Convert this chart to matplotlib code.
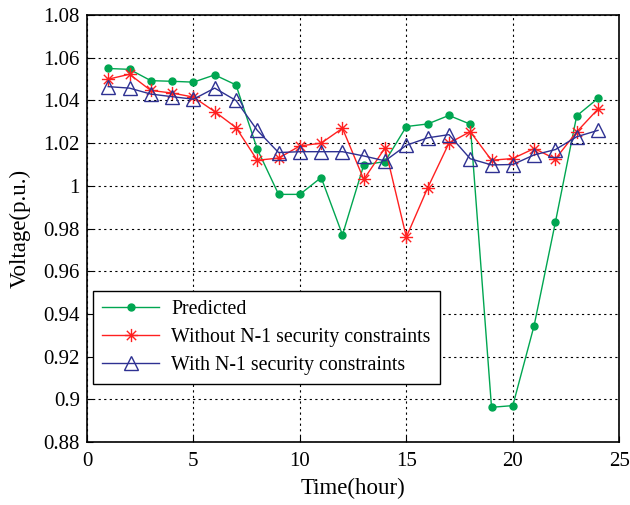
"""
voltage per hour: predicted vs with / without N-1 security constraints
"""

import matplotlib.pyplot as plt
from matplotlib.path import Path
import numpy as np

hours = list(range(1, 25))

# predicted voltage (p.u.)
predicted = [1.055, 1.0546, 1.0493, 1.049, 1.0486, 1.052, 1.0473, 1.0172,
             0.996, 0.996, 1.0039, 0.977, 1.0098, 1.0114, 1.0278, 1.029,
             1.033, 1.0289, 0.8962, 0.897, 0.9345, 0.983, 1.0328, 1.041]
# without N-1 security constraints
withoutN1 = [1.050, 1.0523, 1.0447, 1.0435, 1.0416, 1.0348, 1.0273, 1.012,
             1.013, 1.0187, 1.020, 1.027, 1.003, 1.0178, 0.976, 0.999,
             1.020, 1.0254, 1.012, 1.0128, 1.0175, 1.0126, 1.0253, 1.036]
# with N-1 security constraints
withN1 = [1.0465, 1.0458, 1.043, 1.0418, 1.0406, 1.0458, 1.040, 1.026,
          1.0156, 1.016, 1.016, 1.016, 1.014, 1.0117, 1.019, 1.0225,
          1.024, 1.0127, 1.0098, 1.010, 1.0145, 1.017, 1.023, 1.026]

# matlab style '*' marker: a plus and a cross on top of each other
d = 0.7071
asterisk = Path([(-1, 0), (1, 0), (0, -1), (0, 1), (-d, -d), (d, d), (-d, d), (d, -d)],
                [Path.MOVETO, Path.LINETO] * 4)

plt.rcParams['font.family'] = ['Liberation Serif', 'DejaVu Serif']

fig = plt.figure(figsize=(6.3, 5.05), dpi=100)
ax = fig.add_axes([0.138, 0.125, 0.845, 0.845])

ax.plot(hours, predicted, color='#00a651', lw=1.0, marker='o', ms=5,
        label='Predicted')
ax.plot(hours, withoutN1, color='#ff2020', lw=1.0, marker=asterisk, ms=9.5,
        markerfacecolor='none', markeredgewidth=1.0,
        label='Without N-1 security constraints')
ax.plot(hours, withN1, color='#2e3192', lw=1.0, marker='^', ms=10,
        markerfacecolor='none', markeredgewidth=1.0,
        label='With N-1 security constraints')

ax.set_xlim(0, 25)
ax.set_ylim(0.88, 1.08)
ax.set_xticks(np.arange(0, 26, 5))
ax.set_yticks(np.arange(0.88, 1.081, 0.02))
ax.set_yticklabels(['0.88', '0.9', '0.92', '0.94', '0.96', '0.98', '1',
                    '1.02', '1.04', '1.06', '1.08'])
ax.tick_params(direction='in', labelsize=15, length=4)
ax.tick_params(axis='y', pad=5)
ax.tick_params(axis='x', pad=7)
ax.grid(True, color='black', linestyle=(0, (2, 3)), linewidth=0.8)
for s in ax.spines.values():
    s.set_linewidth(1.2)

ax.set_xlabel('Time(hour)', fontsize=16.5, labelpad=5)
ax.set_ylabel('Voltage(p.u.)', fontsize=16.5, labelpad=9)

leg = ax.legend(loc='lower left', bbox_to_anchor=(0.011, 0.136), borderaxespad=0,
                fontsize=14.3, frameon=True, fancybox=False, framealpha=1,
                edgecolor='black', handlelength=2.9, borderpad=0.45,
                labelspacing=0.45, handletextpad=0.6)
leg.get_frame().set_linewidth(1.0)

plt.savefig('out.png')
plt.close()
